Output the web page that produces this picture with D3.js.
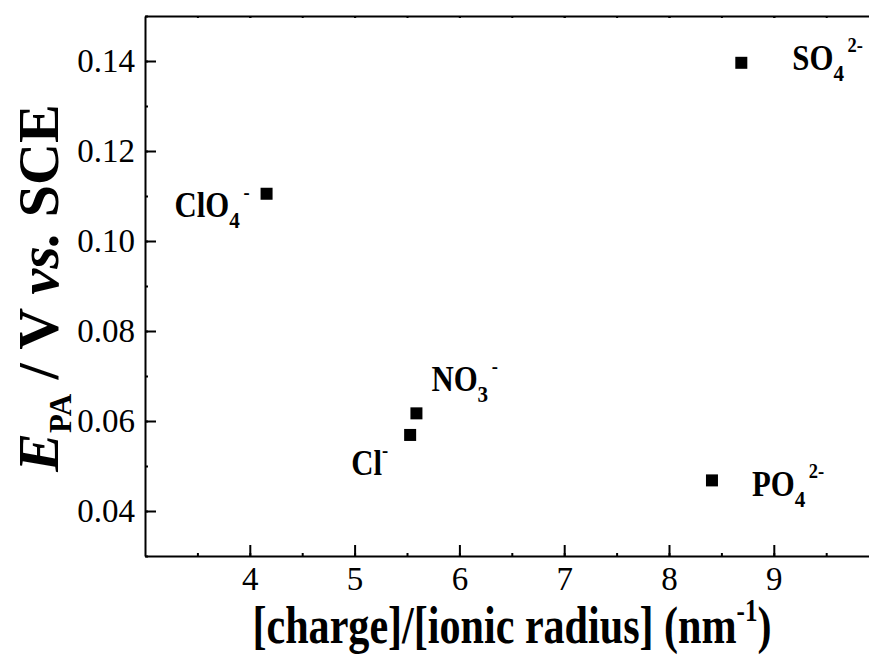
<!DOCTYPE html>
<html>
<head>
<meta charset="utf-8">
<script src="https://cdn.jsdelivr.net/npm/d3@7"></script>
<style>
  body { margin: 0; background: #fff; }
  text { font-family: "Liberation Serif", "Times New Roman", serif; fill: #000; }
</style>
</head>
<body>
<div id="chart"></div>
<script>
// data
const ions = ["SO4", "ClO4", "NO3", "Cl", "PO4"];
const ratio = [8.69, 4.16, 5.59, 5.53, 8.41];          // [charge]/[ionic radius] (nm^-1)
const potential = [0.1396, 0.1105, 0.0617, 0.0569, 0.0468]; // E_PA / V vs. SCE
const xTicks = [4, 5, 6, 7, 8, 9];
const yTicks = [0.04, 0.06, 0.08, 0.10, 0.12, 0.14];
// label pieces: base text, subscript, superscript
const ionLabels = [["SO", "4", "2-"], ["ClO", "4", "-"], ["NO", "3", "-"], ["Cl", "", "-"], ["PO", "4", "2-"]];

// label placement (px from the marker: left edge, baseline)
const labelOffsets = [[51, 7], [-92, 23], [15, -22], [-59, 40], [40, 16]];

const W = 869, H = 657;
const plot = { left: 145, top: 16, bottom: 556, right: 878.6 };

const svg = d3.select("#chart").append("svg")
  .attr("width", W)
  .attr("height", H);

const x = d3.scaleLinear().domain([3, 10]).range([plot.left, plot.right]);
const y = d3.scaleLinear().domain([0.03, 0.15]).range([plot.bottom, plot.top]);

const halfSteps = d3.range(3.5, 10, 0.5);
const yMinor = d3.range(0.03, 0.151, 0.01);

//bottom axis, ticks pointing inwards
const bottom = svg.append("g")
  .attr("transform", "translate(0," + plot.bottom + ")")
  .call(d3.axisBottom(x).tickValues(xTicks).tickFormat(d3.format("d"))
    .tickSizeInner(-11).tickSizeOuter(0).tickPadding(11));
bottom.selectAll("text").style("font-size", "33px");

svg.append("g")
  .attr("transform", "translate(0," + plot.bottom + ")")
  .call(d3.axisBottom(x).tickValues(halfSteps).tickFormat("").tickSizeInner(-3).tickSizeOuter(0))
  .select(".domain").remove();

// left axis
const left = svg.append("g")
  .attr("transform", "translate(" + plot.left + ",0)")
  .call(d3.axisLeft(y).tickValues(yTicks).tickFormat(d3.format(".2f"))
    .tickSizeInner(-11).tickSizeOuter(0).tickPadding(10));
left.selectAll("text").style("font-size", "33px");

svg.append("g")
  .attr("transform", "translate(" + plot.left + ",0)")
  .call(d3.axisLeft(y).tickValues(yMinor).tickFormat("").tickSizeInner(-3).tickSizeOuter(0))
  .select(".domain").remove();

// top frame line with small ticks
svg.append("g")
  .attr("transform", "translate(0," + plot.top + ")")
  .call(d3.axisTop(x).tickValues(halfSteps.concat([4, 5, 6, 7, 8, 9])).tickFormat("").tickSizeInner(-2).tickSizeOuter(0));

svg.selectAll(".domain").attr("stroke-width", 2).attr("stroke", "#000");
svg.selectAll(".tick line").attr("stroke-width", 2).attr("stroke", "#000");

// markers
svg.append("g").selectAll("rect")
  .data(ions)
  .join("rect")
  .attr("x", (d, i) => x(ratio[i]) - 6)
  .attr("y", (d, i) => y(potential[i]) - 6)
  .attr("width", 12)
  .attr("height", 12)
  .attr("fill", "#000");

// ion labels
const lab = svg.append("g").selectAll("g")
  .data(ions)
  .join("g")
  .attr("transform", (d, i) =>
    "translate(" + (x(ratio[i]) + labelOffsets[i][0]) + "," + (y(potential[i]) + labelOffsets[i][1]) + ") scale(0.88,1)");

lab.each(function (d, i) {
  const parts = ionLabels[i];
  const t = d3.select(this).append("text")
    .style("font-weight", "bold")
    .style("font-size", "35px");
  t.append("tspan").text(parts[0]);
  if (parts[1]) {
    t.append("tspan").attr("dy", 11).style("font-size", "24px").text(parts[1]);
    t.append("tspan").attr("dy", -29).attr("dx", 4).style("font-size", "21px").text(parts[2]);
  } else {
    t.append("tspan").attr("dy", -18).style("font-size", "21px").text(parts[2]);
  }
});

// x-axis title
const xt = svg.append("text")
  .attr("transform", "translate(512,643) scale(0.81,1)")
  .attr("text-anchor", "middle")
  .style("font-weight", "bold")
  .style("font-size", "52px");
xt.append("tspan").text("[charge]/[ionic radius] (nm");
xt.append("tspan").attr("dy", -22).style("font-size", "31px").text("-1");
xt.append("tspan").attr("dy", 22).text(")");

// y-axis title
const yt = svg.append("text")
  .attr("transform", "translate(58,288) rotate(-90) scale(1,1)")
  .attr("text-anchor", "middle")
  .style("font-weight", "bold")
  .style("font-size", "58px");
yt.append("tspan").style("font-style", "italic").text("E");
yt.append("tspan").attr("dy", 13).style("font-size", "31px").text("PA");
yt.append("tspan").attr("dy", -13).text(" / V ");
yt.append("tspan").style("font-style", "italic").text("vs.");
yt.append("tspan").text(" SCE");
</script>
</body>
</html>
